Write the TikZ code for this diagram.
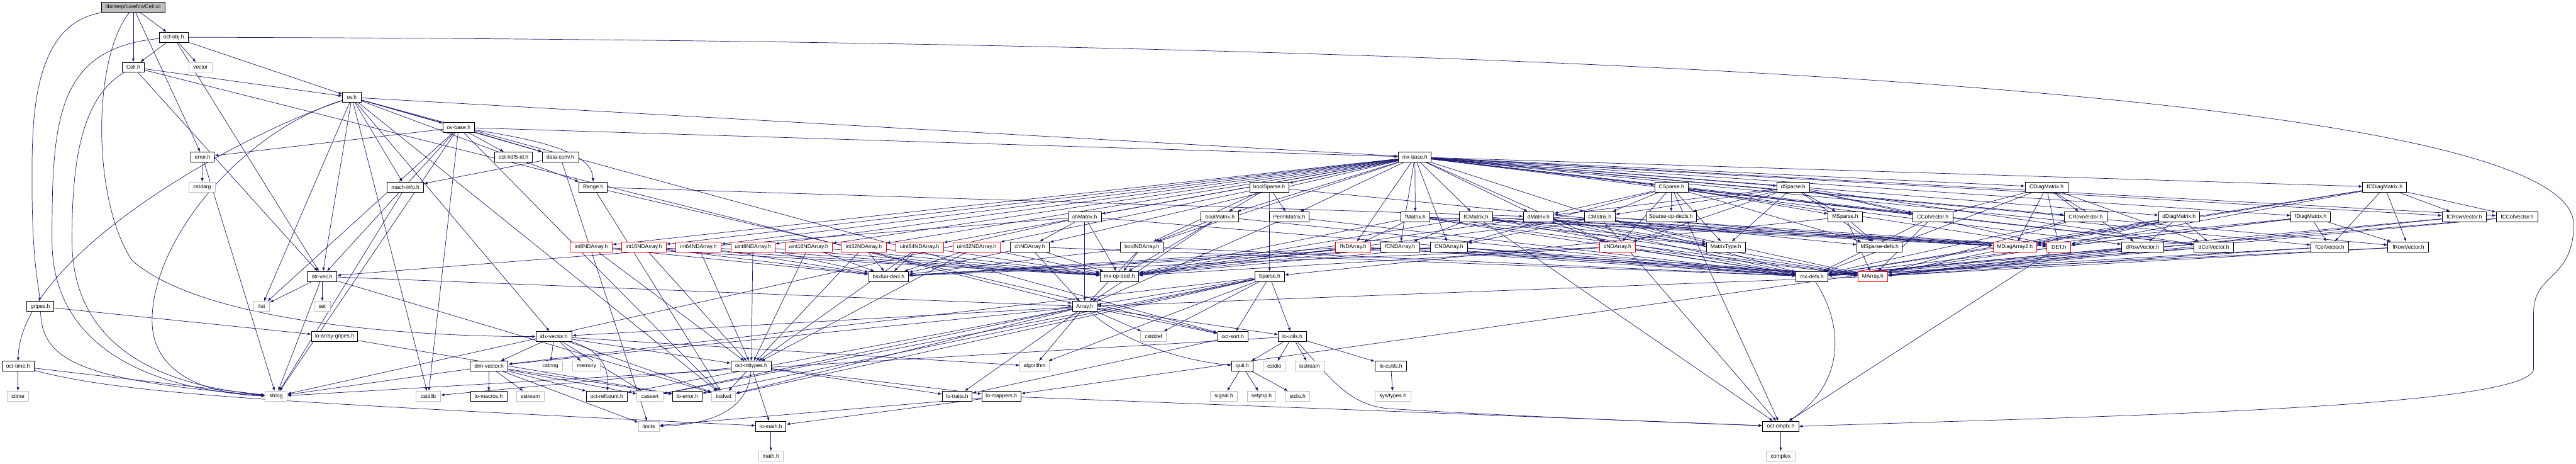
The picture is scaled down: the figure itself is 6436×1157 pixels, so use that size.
\documentclass[tikz,border=0pt]{standalone}
\usepackage{fontspec}
\setmainfont{Liberation Sans}
\usetikzlibrary{arrows.meta,backgrounds}
\definecolor{edgec}{HTML}{191970}
\definecolor{grayb}{HTML}{BFBFBF}
\begin{document}
\begin{tikzpicture}[x=0.5pt,y=-0.5pt,
  nd/.style={draw=black,line width=0.7pt,fill=white,minimum height=12.5pt,inner sep=0pt,font=\fontsize{6.7}{8}\selectfont,anchor=center},
  sysnd/.style={nd,draw=grayb},
  rednd/.style={nd,draw=red},
  rootnd/.style={nd,fill=grayb},
  e/.style={draw=edgec,line width=0.55pt,-{Latex[length=4.5pt,width=3.6pt]}}]
\useasboundingbox (0,0) rectangle (6436,1157);
% row 0-6
\node[rootnd,minimum width=79pt] (cellcc) at (333,18.5) {libinterp/corefcn/Cell.cc};
\node[nd,minimum width=36pt] (octobj) at (434,93) {oct-obj.h};
\node[nd,minimum width=28pt] (cellh) at (333,168) {Cell.h};
\node[sysnd,minimum width=29pt] (vector) at (501,168) {vector};
\node[nd,minimum width=23pt] (ovh) at (879,243) {ov.h};
\node[nd,minimum width=39.5pt] (ovbase) at (1146,318) {ov-base.h};
\node[nd,minimum width=29.5pt] (errorh) at (506,392) {error.h};
\node[nd,minimum width=47.5pt] (hdf5id) at (1283,392) {oct-hdf5-id.h};
\node[nd,minimum width=45.5pt] (dataconv) at (1400,392) {data-conv.h};
\node[nd,minimum width=41pt] (mxbase) at (3535,392) {mx-base.h};
\node[sysnd,minimum width=33pt] (cstdarg) at (505,467) {cstdarg};
\node[nd,minimum width=45.5pt] (machinfo) at (1013,467) {mach-info.h};
\node[nd,minimum width=35.5pt] (rangeh) at (1482,467) {Range.h};
\node[nd,minimum width=48.5pt] (boolsparse) at (3171,467) {boolSparse.h};
\node[nd,minimum width=42pt] (csparse) at (4176,467) {CSparse.h};
\node[nd,minimum width=40.5pt] (dsparse) at (4480,467) {dSparse.h};
\node[nd,minimum width=53.5pt] (cdiag) at (5113,467) {CDiagMatrix.h};
\node[nd,minimum width=55pt] (fcdiag) at (5958,467) {fCDiagMatrix.h};
% row 7
\node[nd,minimum width=41.5pt] (chmatrix) at (2710,541) {chMatrix.h};
\node[nd,minimum width=47pt] (boolmatrix) at (3048,541) {boolMatrix.h};
\node[nd,minimum width=50pt] (permmatrix) at (3221,541) {PermMatrix.h};
\node[nd,minimum width=36.5pt] (fmatrix) at (3536,541) {fMatrix.h};
\node[nd,minimum width=41.5pt] (fcmatrix) at (3688,541) {fCMatrix.h};
\node[nd,minimum width=38pt] (dmatrix) at (3844,541) {dMatrix.h};
\node[nd,minimum width=39pt] (cmatrix) at (3997,541) {CMatrix.h};
\node[nd,minimum width=63pt] (spopdecls) at (4175,541) {Sparse-op-decls.h};
\node[nd,minimum width=42.5pt] (msparse) at (4610,541) {MSparse.h};
\node[nd,minimum width=50.5pt] (ccolvec) at (4829,541) {CColVector.h};
\node[nd,minimum width=53.5pt] (crowvec) at (5211,541) {CRowVector.h};
\node[nd,minimum width=51pt] (ddiag) at (5444,541) {dDiagMatrix.h};
\node[nd,minimum width=49.5pt] (fdiag) at (5773,541) {fDiagMatrix.h};
\node[nd,minimum width=55.5pt] (fcrowvec) at (6157,541) {fCRowVector.h};
\node[nd,minimum width=52.5pt] (fccolvec) at (6289,541) {fCColVector.h};
% row 8
\node[rednd,minimum width=53pt] (i8) at (1477,616) {int8NDArray.h};
\node[rednd,minimum width=55.5pt] (i16) at (1608.5,616) {int16NDArray.h};
\node[rednd,minimum width=56pt] (i64) at (1745,616) {int64NDArray.h};
\node[rednd,minimum width=55pt] (u8) at (1881,616) {uint8NDArray.h};
\node[rednd,minimum width=59pt] (u16) at (2020,616) {uint16NDArray.h};
\node[rednd,minimum width=56pt] (i32) at (2158,616) {int32NDArray.h};
\node[rednd,minimum width=59.5pt] (u64) at (2297.5,616) {uint64NDArray.h};
\node[rednd,minimum width=59.5pt] (u32) at (2440,616) {uint32NDArray.h};
\node[nd,minimum width=49pt] (chnd) at (2573,616) {chNDArray.h};
\node[nd,minimum width=54pt] (boolnd) at (2853,616) {boolNDArray.h};
\node[rednd,minimum width=44pt] (fnd) at (3381,616) {fNDArray.h};
\node[nd,minimum width=49pt] (fcnd) at (3498,616) {fCNDArray.h};
\node[nd,minimum width=47pt] (cnd) at (3620,616) {CNDArray.h};
\node[rednd,minimum width=45pt] (dnd) at (4041,616) {dNDArray.h};
\node[nd,minimum width=49pt] (mattype) at (4312,616) {MatrixType.h};
\node[nd,minimum width=57pt] (mspdefs) at (4696,616) {MSparse-defs.h};
\node[rednd,minimum width=54.5pt] (mdiag) at (5034,616) {MDiagArray2.h};
\node[rednd,minimum width=30pt] (deth) at (5144,616) {DET.h};
\node[nd,minimum width=52.5pt] (drowvec) at (5353,616) {dRowVector.h};
\node[nd,minimum width=49pt] (dcolvec) at (5531,616) {dColVector.h};
\node[nd,minimum width=47pt] (fcolvec) at (5821,616) {fColVector.h};
\node[nd,minimum width=51pt] (frowvec) at (6017,616) {fRowVector.h};
% row 9
\node[nd,minimum width=37pt] (strvec) at (805,690) {str-vec.h};
\node[nd,minimum width=50pt] (bsxfun) at (2220,690) {bsxfun-decl.h};
\node[nd,minimum width=48pt] (mxopdecl) at (2797,690) {mx-op-decl.h};
\node[nd,minimum width=37pt] (sparseh) at (3172,690) {Sparse.h};
\node[nd,minimum width=40pt] (mxdefs) at (4527,690) {mx-defs.h};
\node[rednd,minimum width=37pt] (marray) at (4679,690) {MArray.h};
% row 10
\node[nd,minimum width=34pt] (gripes) at (101,765) {gripes.h};
\node[sysnd,minimum width=19.5pt] (list) at (654,765) {list};
\node[sysnd,minimum width=20pt] (set) at (805,765) {set};
\node[nd,minimum width=31pt] (arrayh) at (2710,765) {Array.h};
% row 11
\node[nd,minimum width=57.5pt] (loagripes) at (836,840) {lo-array-gripes.h};
\node[nd,minimum width=45pt] (idxvec) at (1384,840) {idx-vector.h};
\node[sysnd,minimum width=32.5pt] (cstddef) at (2882,840) {cstddef};
\node[nd,minimum width=38pt] (octsort) at (3080,840) {oct-sort.h};
\node[nd,minimum width=35pt] (loutils) at (3229,840) {lo-utils.h};
% row 12
\node[nd,minimum width=40pt] (octtime) at (45,914) {oct-time.h};
\node[nd,minimum width=47.5pt] (dimvec) at (1222,914) {dim-vector.h};
\node[sysnd,minimum width=30.5pt] (cstring) at (1375,914) {cstring};
\node[sysnd,minimum width=34.5pt] (memory) at (1465.5,914) {memory};
\node[nd,minimum width=50.5pt] (inttypes) at (1877,914) {oct-inttypes.h};
\node[sysnd,minimum width=37pt] (algorithm) at (2585,914) {algorithm};
\node[nd,minimum width=27pt] (quit) at (3104,914) {quit.h};
\node[sysnd,minimum width=28.5pt] (cstdio) at (3184,914) {cstdio};
\node[sysnd,minimum width=36pt] (iostream) at (3272,914) {iostream};
\node[nd,minimum width=39.5pt] (locutils) at (3475,914) {lo-cutils.h};
% row 13
\node[sysnd,minimum width=27pt] (ctime) at (45,989) {ctime};
\node[sysnd,minimum width=27.5pt] (string) at (690,989) {string};
\node[sysnd,minimum width=30.5pt] (cstdlib) at (1070,989) {cstdlib};
\node[nd,minimum width=45.5pt] (lomacros) at (1221,989) {lo-macros.h};
\node[sysnd,minimum width=34.5pt] (sstream) at (1325,989) {sstream};
\node[nd,minimum width=51pt] (refcount) at (1516,989) {oct-refcount.h};
\node[sysnd,minimum width=32.5pt] (cassert) at (1624,989) {cassert};
\node[nd,minimum width=36.5pt] (loerror) at (1717.5,989) {lo-error.h};
\node[sysnd,minimum width=29.5pt] (iosfwd) at (1808,989) {iosfwd};
\node[nd,minimum width=37.5pt] (lotraits) at (2391.5,989) {lo-traits.h};
\node[nd,minimum width=49pt] (lomappers) at (2502,989) {lo-mappers.h};
\node[sysnd,minimum width=33.5pt] (signal) at (3058,989) {signal.h};
\node[sysnd,minimum width=36pt] (setjmp) at (3152,989) {setjmp.h};
\node[sysnd,minimum width=30.5pt] (stdio) at (3242,989) {stdio.h};
\node[sysnd,minimum width=45pt] (systypes) at (3480,989) {sys/types.h};
% row 14-15
\node[sysnd,minimum width=26pt] (limits) at (1621,1064) {limits};
\node[nd,minimum width=38pt] (lomath) at (1926,1064) {lo-math.h};
\node[nd,minimum width=45pt] (cmplx) at (4449,1064) {oct-cmplx.h};
\node[sysnd,minimum width=31pt] (mathh) at (1926,1139) {math.h};
\node[sysnd,minimum width=35.5pt] (complex) at (4449,1139) {complex};

\begin{scope}[on background layer]
% curved long edges on the left
\draw[e] (cellcc) .. controls (80,60) and (80,300) .. (80,450) .. controls (80,650) and (95,700) .. (gripes);
\draw[e] (cellcc) .. controls (230,150) and (230,500) .. (330,650) .. controls (500,800) and (1000,840) .. (idxvec);
\foreach \t in {octobj,cellh,errorh} \draw[e] (cellcc) -- (\t);
\foreach \t in {cellh,vector,ovh,strvec} \draw[e] (octobj) -- (\t);
\draw[e] (octobj) .. controls (140,120) and (130,300) .. (130,600) .. controls (130,930) and (500,980) .. (string);
\draw[e] (octobj.east) .. controls (3500,100) and (6430,200) .. (6430,560) .. controls (6430,700) and (6330,680) .. (6330,780) -- (6330,920) .. controls (6330,1020) and (5200,1040) .. (cmplx.east);
\foreach \t in {ovh,arrayh,strvec} \draw[e] (cellh) -- (\t);
\draw[e] (cellh) .. controls (190,250) and (180,450) .. (180,600) .. controls (180,920) and (500,970) .. (string);
\draw[e] (ovh) .. controls (560,350) and (50,650) .. (octtime);
\draw[e] (ovh) .. controls (600,330) and (380,600) .. (380,800) .. controls (380,950) and (550,985) .. (string);
\foreach \t in {ovbase,machinfo,dataconv,rangeh,mxbase,idxvec,strvec,cstdlib,iosfwd,list,octsort} \draw[e] (ovh) -- (\t);
\foreach \t in {errorh,hdf5id,dataconv,mxbase,strvec,cstdlib,iosfwd,list,string} \draw[e] (ovbase) -- (\t);
\draw[e] (ovbase) .. controls (1350,350) and (1480,380) .. (rangeh);
\foreach \t in {cstdarg,string} \draw[e] (errorh) -- (\t);
\draw[e] (machinfo) -- (string);
\foreach \t in {machinfo,limits} \draw[e] (dataconv) -- (\t);
\foreach \t in {dmatrix,octsort,iosfwd} \draw[e] (rangeh) -- (\t);
\draw[e] (gripes) -- (loagripes);
\draw[e] (gripes) .. controls (105,900) and (200,950) .. (string);
\draw[e] (loagripes) -- (loerror);
\foreach \t in {list,set,string,arrayh,iosfwd} \draw[e] (strvec) -- (\t);
\draw[e] (octtime) -- (ctime);
\draw[e] (octtime) -- (string);
\draw[e] (octtime) .. controls (300,980) and (600,1000) .. (lomath);
\foreach \t in {chmatrix,boolmatrix,permmatrix,fmatrix,fcmatrix,dmatrix,cmatrix,boolsparse,csparse,dsparse,cdiag,fcdiag,ddiag,fdiag,ccolvec,crowvec,fcrowvec,fccolvec,drowvec,dcolvec,fcolvec,frowvec,chnd,boolnd,dnd,cnd,fnd,fcnd,i8,i16,i32,i64,u8,u16,u32,u64} \draw[e] (mxbase) -- (\t);
\foreach \t in {arrayh,chnd,mxdefs,mxopdecl,strvec,string} \draw[e] (chmatrix) -- (\t);
\foreach \t in {arrayh,mxdefs,mxopdecl,bsxfun} \draw[e] (chnd) -- (\t);
\foreach \t in {arrayh,boolnd,mxdefs,mxopdecl} \draw[e] (boolmatrix) -- (\t);
\foreach \t in {arrayh,mxdefs,mxopdecl,bsxfun} \draw[e] (boolnd) -- (\t);
\foreach \t in {sparseh,mspdefs,boolmatrix,boolnd,permmatrix} \draw[e] (boolsparse) -- (\t);
\foreach \t in {arrayh,mxdefs} \draw[e] (permmatrix) -- (\t);
\foreach \t in {marray,mdiag,mattype,mxdefs,mxopdecl,deth,fnd} \draw[e] (fmatrix) -- (\t);
\foreach \t in {marray,mdiag,mattype,mxdefs,mxopdecl,deth,fcnd,cmplx} \draw[e] (fcmatrix) -- (\t);
\foreach \t in {marray,mdiag,mattype,mxdefs,mxopdecl,deth,dnd} \draw[e] (dmatrix) -- (\t);
\foreach \t in {marray,mdiag,mattype,mxdefs,mxopdecl,deth,cnd,cmplx} \draw[e] (cmatrix) -- (\t);
\foreach \t in {dmatrix,dnd,cmatrix,cnd,dcolvec,ccolvec,cmplx,deth,msparse,mspdefs,spopdecls,mattype} \draw[e] (csparse) -- (\t);
\foreach \t in {dmatrix,dnd,cmatrix,dcolvec,ccolvec,deth,msparse,mspdefs,spopdecls,mattype} \draw[e] (dsparse) -- (\t);
\foreach \t in {ccolvec,crowvec,drowvec,dcolvec,mdiag,deth,mxdefs} \draw[e] (cdiag) -- (\t);
\foreach \t in {fcrowvec,fccolvec,frowvec,fcolvec,mdiag,deth,mxdefs} \draw[e] (fcdiag) -- (\t);
\foreach \t in {mdiag,drowvec,dcolvec,deth,mxdefs} \draw[e] (ddiag) -- (\t);
\foreach \t in {mdiag,frowvec,fcolvec,deth,mxdefs} \draw[e] (fdiag) -- (\t);
\foreach \s in {ccolvec,crowvec,fcrowvec,fccolvec,drowvec,dcolvec,fcolvec,frowvec} {\draw[e] (\s) -- (marray); \draw[e] (\s) -- (mxdefs);}
\foreach \t in {marray,sparseh,mspdefs} \draw[e] (msparse) -- (\t);
\foreach \s in {i8,i16,i32,i64,u8,u16,u32,u64} {\draw[e] (\s) -- (inttypes); \draw[e] (\s) -- (mxopdecl); \draw[e] (\s) -- (bsxfun);}
\foreach \s in {fnd,dnd,fcnd,cnd} {\draw[e] (\s) -- (marray); \draw[e] (\s) -- (mxdefs); \draw[e] (\s) -- (mxopdecl); \draw[e] (\s) -- (bsxfun);}
\draw[e] (mdiag) -- (marray);
\draw[e] (marray) -- (arrayh);
\foreach \t in {cmplx,lomappers} \draw[e] (deth) -- (\t);
\foreach \t in {arrayh,cstddef,octsort,loutils,algorithm,cassert,iosfwd,dimvec,loerror} \draw[e] (sparseh) -- (\t);
\draw[e] (mxdefs) .. controls (4600,800) and (4620,950) .. (cmplx);
\foreach \t in {cassert,cstddef,algorithm,iosfwd,dimvec,idxvec,lotraits,loutils,octsort,refcount} \draw[e] (arrayh) -- (\t);
\draw[e] (arrayh) .. controls (2800,850) and (2950,900) .. (quit);
\foreach \t in {cassert,cstring,algorithm,iosfwd,memory,dimvec,inttypes} \draw[e] (idxvec) -- (\t);
\draw[e] (idxvec) .. controls (1520,880) and (1520,940) .. (refcount);
\foreach \t in {cassert,limits,sstream,string,loerror,lomacros,refcount} \draw[e] (dimvec) -- (\t);
\foreach \t in {cstdlib,iosfwd,lotraits,lomath,lomappers} \draw[e] (inttypes) -- (\t);
\draw[e] (inttypes) .. controls (1870,1020) and (1780,1060) .. (limits);
\draw[e] (octsort) -- (lotraits);
\foreach \t in {cstdio,iostream,string,locutils,quit} \draw[e] (loutils) -- (\t);
\draw[e] (loutils) .. controls (3330,950) and (3370,1010) .. (3470,1020) .. controls (3800,1040) and (4200,1055) .. (cmplx);
\foreach \t in {signal,setjmp,stdio} \draw[e] (quit) -- (\t);
\draw[e] (locutils) -- (systypes);
\foreach \t in {limits,cmplx,lomath} \draw[e] (lomappers) -- (\t);
\draw[e] (lomath) -- (mathh);
\draw[e] (cmplx) -- (complex);
\end{scope}
\end{tikzpicture}
\end{document}
